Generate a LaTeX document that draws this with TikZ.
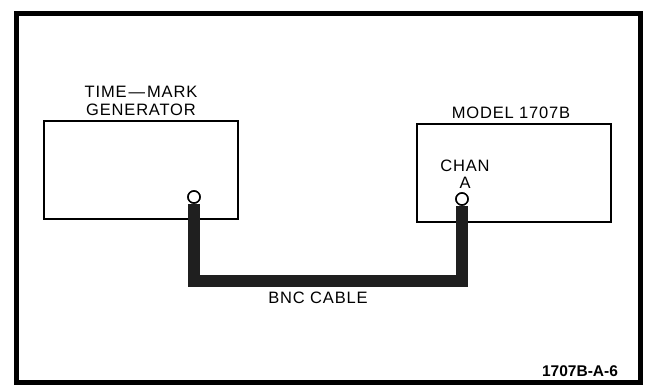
\documentclass[tikz,border=0pt]{standalone}
\usepackage{fontspec}
\setmainfont{Liberation Sans}
\newfontfamily\lblfont[LetterSpace=5]{Liberation Sans}
\newfontfamily\tagfont{Liberation Sans}
\begin{document}
\begin{tikzpicture}[x=1pt,y=-1pt,
  box/.style={draw=black,line width=1.3pt,minimum width=194pt,minimum height=98pt,inner sep=0pt},
  lbl/.style={font=\lblfont\fontsize{16.5}{17.5}\selectfont,inner sep=0pt,align=center},
  jack/.style={circle,draw=black,fill=white,line width=1.5pt,minimum size=12pt,inner sep=0pt},
  cable/.style={line width=11.5pt,draw=black!88,line join=miter}]
\useasboundingbox (0,0) rectangle (647,388);
\draw[line width=5pt] (16,13) rectangle (640,382);
\node[box] (gen) at (141,170) {};
\node[box] (scope) at (514,173) {};
\node[lbl] (genlbl) at (141,101) {TIME\kern2pt—\kern2ptMARK\\GENERATOR};
\node[lbl] (scopelbl) at (511,113) {MODEL 1707B};
\node[lbl] (chan) at (465,174) {CHAN\\A};
\node[jack] (cL) at (194,197) {};
\node[jack] (cR) at (462,199) {};
\coordinate (bot) at (328,281);
\draw[cable] (cL.south) -- (cL.south |- bot) -- (cR.south |- bot) -- (cR.south);
\node[jack] at (cL) {};
\node[jack] at (cR) {};
\node[lbl] (bnc) at (318,298) {BNC CABLE};
\node[font=\tagfont\bfseries\fontsize{15.5}{17}\selectfont,inner sep=0pt] (tag) at (580,371) {1707B-A-6};
\end{tikzpicture}
\end{document}
